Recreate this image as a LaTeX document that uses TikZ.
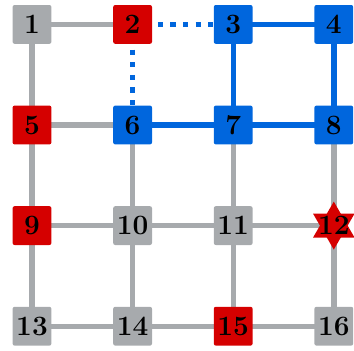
\documentclass[tikz,border=0pt]{standalone}
\usetikzlibrary{calc}
\pgfdeclarelayer{background}
\pgfsetlayers{background,main}
\definecolor{edgegray}{RGB}{167,170,173}
\definecolor{nodered}{RGB}{213,0,0}
\definecolor{nodeblue}{RGB}{0,102,221}
\tikzset{
  box/.style={minimum size=19.4pt, inner sep=0pt, rounded corners=1pt, font=\fontsize{14}{14}\selectfont\bfseries},
  graybox/.style={box, fill=edgegray},
  redbox/.style={box, fill=nodered},
  bluebox/.style={box, fill=nodeblue},
  plainlbl/.style={inner sep=0pt, font=\fontsize{14}{14}\selectfont\bfseries},
  grayedge/.style={draw=edgegray, line width=2.7pt},
  blueedge/.style={draw=nodeblue, line width=2.7pt},
  dotedge/.style={draw=nodeblue, line width=2.7pt, dash pattern=on 2.6pt off 3.7pt}
}
\begin{document}
\begin{tikzpicture}[x=1pt,y=1pt]
\useasboundingbox (0,0) rectangle (177,175);
% columns 16, 66.3, 116.6, 166.9 ; rows 162.8, 112.5, 62.2, 11.9
\node[graybox] (n1) at (16,162.8) {1};
\node[redbox] (n2) at (66.3,162.8) {2};
\node[bluebox] (n3) at (116.6,162.8) {3};
\node[bluebox] (n4) at (166.9,162.8) {4};
\node[redbox] (n5) at (16,112.5) {5};
\node[bluebox] (n6) at (66.3,112.5) {6};
\node[bluebox] (n7) at (116.6,112.5) {7};
\node[bluebox] (n8) at (166.9,112.5) {8};
\node[redbox] (n9) at (16,62.2) {9};
\node[graybox] (n10) at (66.3,62.2) {10};
\node[graybox] (n11) at (116.6,62.2) {11};
\node[plainlbl] (n12) at (166.9,62.2) {12};
\node[graybox] (n13) at (16,11.9) {13};
\node[graybox] (n14) at (66.3,11.9) {14};
\node[redbox] (n15) at (116.6,11.9) {15};
\node[graybox] (n16) at (166.9,11.9) {16};
\begin{pgfonlayer}{background}
  \foreach \a/\b in {n1/n2,n1/n5,n5/n6,n5/n9,n9/n10,n9/n13,n6/n10,n10/n11,n10/n14,n11/n12,n11/n15,n7/n11,n8/n12,n12/n16,n13/n14,n14/n15,n15/n16}
    \path[grayedge] (\a.center) -- (\b.center);
  \foreach \a/\b in {n3/n4,n3/n7,n4/n8,n6/n7,n7/n8}
    \path[blueedge] (\a.center) -- (\b.center);
  \path[dotedge] (n2.center) -- (n3.center);
  \path[dotedge] (n2.center) -- (n6.center);
  \fill[nodered] ($(n12.center)+(90:12pt)$) -- ($(n12.center)+(210:12pt)$) -- ($(n12.center)+(330:12pt)$) -- cycle;
  \fill[nodered] ($(n12.center)+(270:12pt)$) -- ($(n12.center)+(30:12pt)$) -- ($(n12.center)+(150:12pt)$) -- cycle;
\end{pgfonlayer}
\end{tikzpicture}
\end{document}
